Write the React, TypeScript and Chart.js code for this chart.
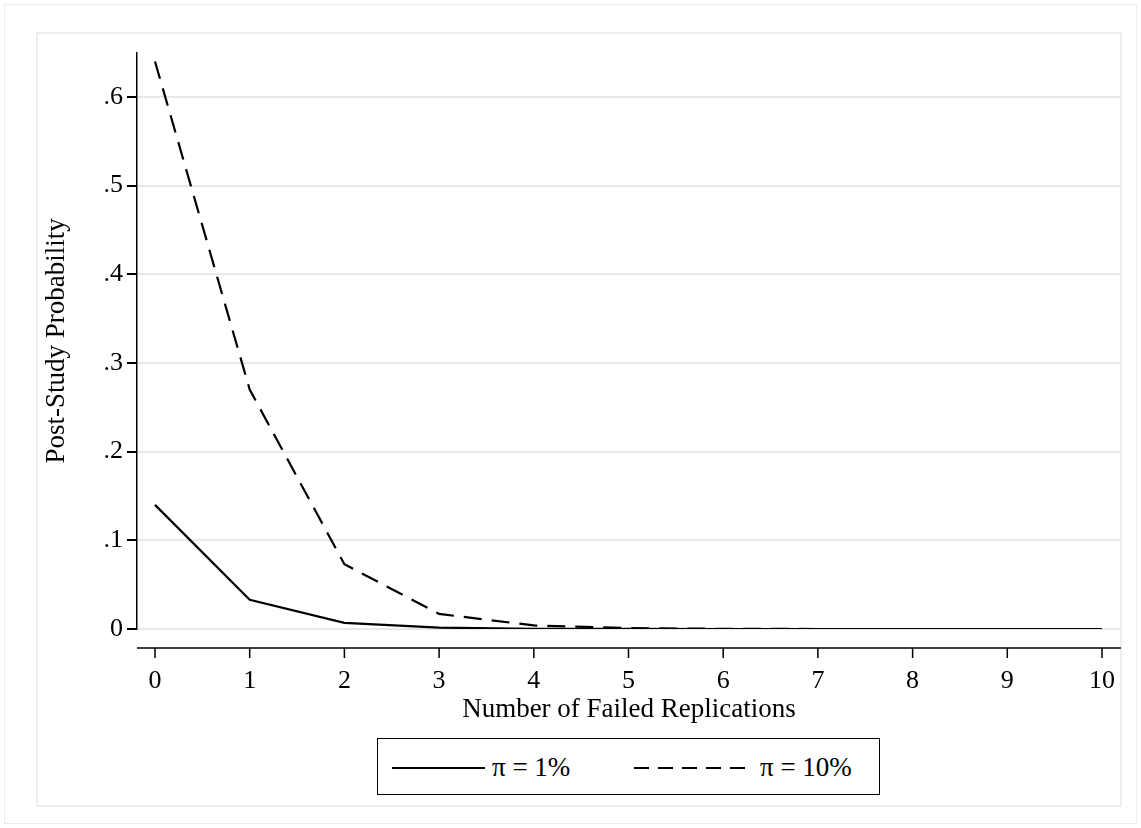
import React, { useEffect, useRef } from "react";
import Chart from "chart.js/auto";

const failures = [0, 1, 2, 3, 4, 5, 6, 7, 8, 9, 10];
const prior1 = [0.14, 0.033, 0.007, 0.0015, 0.0003, 0.0001, 0, 0, 0, 0, 0];
const prior10 = [0.64, 0.27, 0.073, 0.017, 0.004, 0.001, 0.0002, 0, 0, 0, 0];
const yTicks = [0, 0.1, 0.2, 0.3, 0.4, 0.5, 0.6];

const FONT = "'Liberation Serif', 'Times New Roman', serif";
const AXIS_GAP = 19;

const App: React.FC = () => {
  const canvasRef = useRef<HTMLCanvasElement>(null);
  const chartRef = useRef<Chart>();

  useEffect(() => {
    document.body.style.margin = "0";
    const ctx = canvasRef.current?.getContext("2d");
    if (!ctx) return;

    // separate x axis line below the plot, Stata style
    const detachedXAxis = {
      id: "detachedXAxis",
      afterDraw(chart: any) {
        const { ctx: c, chartArea } = chart;
        const x = chart.scales.x;
        const y0 = chartArea.bottom + AXIS_GAP;
        c.save();
        c.strokeStyle = "#000";
        c.lineWidth = 1.5;
        c.beginPath();
        c.moveTo(chartArea.left, y0);
        c.lineTo(chartArea.right, y0);
        failures.forEach((v) => {
          const px = x.getPixelForValue(v);
          c.moveTo(px, y0);
          c.lineTo(px, y0 + 10);
        });
        c.stroke();
        c.restore();
      },
    };

    chartRef.current = new Chart(ctx, {
      type: "line",
      data: {
        labels: failures,
        datasets: [
          {
            label: "π = 1%",
            data: failures.map((f, i) => ({ x: f, y: prior1[i] })),
            borderColor: "#000",
            borderWidth: 2.2,
            pointRadius: 0,
            tension: 0,
          },
          {
            label: "π = 10%",
            data: failures.map((f, i) => ({ x: f, y: prior10[i] })),
            borderColor: "#000",
            borderWidth: 2.2,
            borderDash: [18, 10],
            pointRadius: 0,
            tension: 0,
          },
        ],
      },
      options: {
        animation: false,
        responsive: false,
        layout: { padding: { top: 17, right: 0, left: 0, bottom: 0 } },
        plugins: { legend: { display: false }, tooltip: { enabled: false } },
        scales: {
          x: {
            type: "linear",
            min: -0.19,
            max: 10.2,
            afterBuildTicks: (s: any) => {
              s.ticks = failures.map((v) => ({ value: v }));
            },
            afterFit: (s: any) => {
              s.height = 101;
            },
            grid: { display: false },
            border: { display: false },
            ticks: {
              color: "#000",
              padding: AXIS_GAP + 10,
              font: { family: FONT, size: 26 },
            },
            title: {
              display: true,
              text: "Number of Failed Replications",
              color: "#000",
              padding: { top: 0 },
              font: { family: FONT, size: 27 },
            },
          },
          y: {
            min: 0,
            max: 0.65,
            afterBuildTicks: (s: any) => {
              s.ticks = yTicks.map((v) => ({ value: v }));
            },
            afterFit: (s: any) => {
              s.width = 100;
            },
            grid: { color: "#e8e8e8", lineWidth: 2, tickColor: "#000", tickLength: 10 },
            border: { color: "#000", width: 1.5 },
            ticks: {
              color: "#000",
              padding: 4,
              font: { family: FONT, size: 26 },
              callback: (v: any) => (v === 0 ? "0" : String(Number(v).toFixed(1)).replace(/^0/, "")),
            },
            title: {
              display: true,
              text: "Post-Study Probability",
              color: "#000",
              padding: { bottom: 4 },
              font: { family: FONT, size: 27 },
            },
          },
        },
      },
      plugins: [detachedXAxis],
    });

    return () => {
      chartRef.current?.destroy();
    };
  }, []);

  const legendText: React.CSSProperties = { fontFamily: FONT, fontSize: 27, color: "#000", lineHeight: "30px" };

  return (
    <div style={{ position: "relative", width: 1141, height: 828, background: "#fff", overflow: "hidden" }}>
      <div style={{ position: "absolute", left: 4, top: 4, width: 1133, height: 820, border: "1px solid #ececec", boxSizing: "border-box" }} />
      <div style={{ position: "absolute", left: 36, top: 32, width: 1086, height: 775, border: "2px solid #eeeeee", boxSizing: "border-box" }} />
      <canvas ref={canvasRef} width={1107} height={697} style={{ position: "absolute", left: 37, top: 33 }} />
      <div style={{ position: "absolute", left: 377, top: 738, width: 503, height: 57, border: "1.5px solid #000", boxSizing: "border-box" }}>
        <div style={{ position: "absolute", left: 14, top: 28, width: 93, borderTop: "2px solid #000" }} />
        <div style={{ ...legendText, position: "absolute", left: 114, top: 13 }}>π = 1%</div>
        <div
          style={{
            position: "absolute",
            left: 256,
            top: 28,
            width: 117,
            height: 2,
            background: "repeating-linear-gradient(90deg, #000 0 15px, transparent 15px 24px)",
          }}
        />
        <div style={{ ...legendText, position: "absolute", left: 382, top: 13 }}>π = 10%</div>
      </div>
    </div>
  );
};

export default App;
